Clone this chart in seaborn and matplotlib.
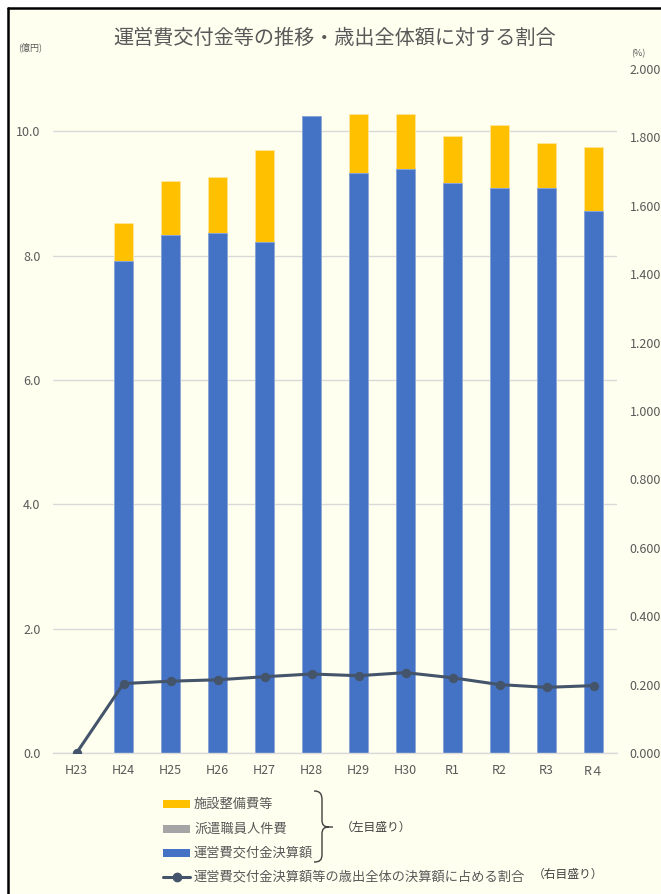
import numpy as np
import pandas as pd
import matplotlib
matplotlib.use('Agg')
import matplotlib.pyplot as plt
import seaborn as sns
from matplotlib.patches import Rectangle, PathPatch
from matplotlib.path import Path
from matplotlib.lines import Line2D

# データ（億円 / %）
years = ['H23', 'H24', 'H25', 'H26', 'H27', 'H28', 'H29', 'H30', 'R1', 'R2', 'R3', 'R４']
kofukin = [0.0, 7.92, 8.33, 8.37, 8.21, 10.25, 9.33, 9.39, 9.16, 9.09, 9.08, 8.72]   # 運営費交付金決算額
haken = [0, 0, 0, 0, 0, 0, 0, 0, 0, 0, 0, 0]                                         # 派遣職員人件費
shisetsu = [0.0, 0.60, 0.87, 0.89, 1.48, 0.0, 0.95, 0.88, 0.76, 1.01, 0.73, 1.03]    # 施設整備費等
ratio = [0.0, 0.203, 0.210, 0.214, 0.223, 0.231, 0.226, 0.235, 0.220, 0.200, 0.192, 0.197]

df = pd.DataFrame({'year': years, 'kofukin': kofukin, 'haken': haken, 'shisetsu': shisetsu, 'ratio': ratio})
df['blue_gray'] = df['kofukin'] + df['haken']
df['total'] = df['blue_gray'] + df['shisetsu']

C_BLUE = '#4472C4'
C_YELLOW = '#FFC000'
C_GRAY = '#A5A5A5'
C_LINE = '#44546A'
C_BG = '#FFFFF0'
C_TEXT = '#595959'
JP = ['Noto Sans CJK JP', 'DejaVu Sans']

sns.set_theme(style='white')
plt.rcParams['font.family'] = JP

W, H = 661, 894
fig = plt.figure(figsize=(W / 100, H / 100), dpi=100, facecolor='white')


def fx(px):
    return px / W


def fy(py):
    return 1 - py / H


# 背景と枠
fig.patches.append(Rectangle((fx(8), 0), 1 - fx(8), fy(8), transform=fig.transFigure,
                             facecolor=C_BG, edgecolor='none', zorder=-5))
fig.lines.append(Line2D([fx(8), fx(8)], [0, fy(8)], transform=fig.transFigure, color='black', lw=1.8))
fig.lines.append(Line2D([fx(8), 1], [fy(8), fy(8)], transform=fig.transFigure, color='black', lw=1.8))

ax = fig.add_axes([fx(53), fy(753), fx(617) - fx(53), fy(69) - fy(753)])
ax.set_facecolor('none')

# 積み上げ棒
sns.barplot(data=df, x='year', y='total', color=C_YELLOW, width=0.41, ax=ax,
            edgecolor='#FFE699', linewidth=0.6, saturation=1)
sns.barplot(data=df, x='year', y='blue_gray', color=C_GRAY, width=0.41, ax=ax,
            edgecolor='none', linewidth=0, saturation=1)
sns.barplot(data=df, x='year', y='kofukin', color=C_BLUE, width=0.41, ax=ax,
            edgecolor='#8FAADC', linewidth=0.6, saturation=1)

ax.set_xlim(-0.5, len(years) - 0.5)
ax.set_ylim(0, 11)
ax.set_yticks(np.arange(0, 11, 2))
ax.set_yticklabels([f'{v:.1f}' for v in np.arange(0, 11, 2)])
ax.grid(axis='y', color='#D9D9D9', lw=1)
ax.set_axisbelow(True)
for s in ['top', 'right', 'left']:
    ax.spines[s].set_visible(False)
ax.spines['bottom'].set_color('#D9D9D9')
ax.spines['bottom'].set_linewidth(1)
ax.tick_params(axis='both', length=0, labelsize=9, colors=C_TEXT)
ax.tick_params(axis='y', pad=9)
ax.tick_params(axis='x', pad=8)
ax.set_xlabel('')
ax.set_ylabel('')

# 割合（右軸）
ax2 = ax.twinx()
sns.lineplot(x=np.arange(len(years)), y=df['ratio'], ax=ax2, color=C_LINE, lw=2.2,
             marker='o', markersize=6, markeredgecolor=C_LINE)
ax2.set_ylim(0, 2.0)
ax2.set_yticks(np.arange(0, 2.01, 0.2))
ax2.set_yticklabels([f'{v:.3f}' for v in np.arange(0, 2.01, 0.2)])
ax2.tick_params(axis='y', length=0, labelsize=9, colors=C_TEXT, pad=9)
for s in ax2.spines.values():
    s.set_visible(False)
ax2.set_ylabel('')

# タイトル・単位
fig.text(fx(335), fy(38), '運営費交付金等の推移・歳出全体額に対する割合', ha='center', va='center',
         fontsize=14.5, color=C_TEXT)
fig.text(fx(30), fy(47), '(億円)', ha='center', va='center', fontsize=6.5, color=C_TEXT)
fig.text(fx(638), fy(54), '(%)', ha='center', va='center', fontsize=6.5, color=C_TEXT)

# 凡例
legend_items = [('施設整備費等', C_YELLOW, 804), ('派遣職員人件費', C_GRAY, 829), ('運営費交付金決算額', C_BLUE, 853)]
for label, col, py in legend_items:
    fig.patches.append(Rectangle((fx(163), fy(py + 4)), fx(190) - fx(163), fy(py - 4) - fy(py + 4),
                                 transform=fig.transFigure, facecolor=col, edgecolor='none'))
    fig.text(fx(194), fy(py), label, ha='left', va='center', fontsize=9.5, color=C_TEXT)

fig.lines.append(Line2D([fx(163), fx(190)], [fy(877), fy(877)], transform=fig.transFigure,
                        color=C_LINE, lw=2.2))
fig.lines.append(Line2D([fx(176.5)], [fy(877)], transform=fig.transFigure, color=C_LINE,
                        marker='o', markersize=6))
fig.text(fx(194), fy(877), '運営費交付金決算額等の歳出全体の決算額に占める割合', ha='left', va='center',
         fontsize=9.5, color=C_TEXT)

# 波括弧
pts = [(314, 791), (320, 791), (322, 794), (322, 800),
       (322, 820),
       (322, 825), (324, 827), (329, 827),
       (333, 827),
       (329, 827),
       (324, 827), (322, 829), (322, 834),
       (322, 854),
       (322, 860), (320, 862), (314, 862)]
codes = [Path.MOVETO, Path.CURVE4, Path.CURVE4, Path.CURVE4,
         Path.LINETO,
         Path.CURVE4, Path.CURVE4, Path.CURVE4,
         Path.LINETO,
         Path.MOVETO,
         Path.CURVE4, Path.CURVE4, Path.CURVE4,
         Path.LINETO,
         Path.CURVE4, Path.CURVE4, Path.CURVE4]
brace = Path([(fx(x), fy(y)) for x, y in pts], codes)
fig.patches.append(PathPatch(brace, transform=fig.transFigure, facecolor='none', edgecolor='#404040', lw=1))

fig.text(fx(341), fy(827), '（左目盛り）', ha='left', va='center', fontsize=8.5, color='#404040')
fig.text(fx(533), fy(874), '（右目盛り）', ha='left', va='center', fontsize=8.5, color='#404040')

fig.savefig('out.png', dpi=100, facecolor=fig.get_facecolor())
